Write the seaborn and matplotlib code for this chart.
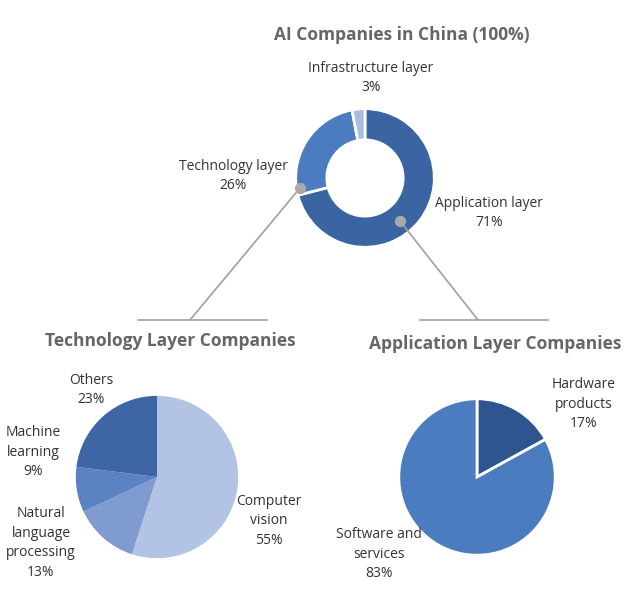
import matplotlib
matplotlib.use("Agg")
import matplotlib.pyplot as plt
import seaborn as sns

sns.set_theme(style="white")
plt.rcParams['font.family'] = ['Open Sans', 'DejaVu Sans']

top_labels = ["Application layer", "Technology layer", "Infrastructure layer"]
top_values = [71, 26, 3]
top_colors = ["#3b64a2", "#4a7cbf", "#a8bde0"]

tech_labels = ["Computer vision", "Natural language processing", "Machine learning", "Others"]
tech_values = [55, 13, 9, 23]
tech_colors = ["#b3c3e4", "#7f9bd0", "#5b82c2", "#3e66a4"]

app_labels = ["Hardware products", "Software and services"]
app_values = [17, 83]
app_colors = ["#2f5591", "#4a7cbf"]

W, H = 640, 614
fig = plt.figure(figsize=(W/100, H/100), dpi=100)

def add_ax(cx, cy, r):
    a = fig.add_axes([(cx - r)/W, 1 - (cy + r)/H, 2*r/W, 2*r/H])
    return a

def fix(a):
    a.set_xlim(-1.01, 1.01); a.set_ylim(-1.01, 1.01); a.set_aspect("equal"); a.axis("off")

ax1 = add_ax(365, 178, 70)
ax1.pie(top_values, colors=top_colors, startangle=90, counterclock=False,
        wedgeprops=dict(width=0.45, edgecolor="white", linewidth=2))
fix(ax1)

ax2 = add_ax(157, 477, 82)
ax2.pie(tech_values, colors=tech_colors, startangle=90, counterclock=False,
        wedgeprops=dict(edgecolor="none"))
fix(ax2)

ax3 = add_ax(477, 477, 79)
ax3.pie(app_values, colors=app_colors, startangle=90, counterclock=False,
        wedgeprops=dict(edgecolor="white", linewidth=2))
fix(ax3)

ov = fig.add_axes([0, 0, 1, 1], zorder=5)
ov.set_xlim(0, W); ov.set_ylim(H, 0); ov.axis("off"); ov.patch.set_alpha(0)
g = "#a0a0a0"
ov.plot([138, 267], [320, 320], color=g, lw=1.2)
ov.plot([190, 300], [320, 188], color=g, lw=1.2)
ov.plot([420, 548], [320, 320], color=g, lw=1.2)
ov.plot([478, 400], [320, 221], color=g, lw=1.2)
ov.scatter([300, 400], [188, 221], s=50, color="#a9a9a9", zorder=6)

tc = "#333333"
ov.text(402, 35, "AI Companies in China (100%)", ha="center", va="center", fontsize=12.5, fontweight="bold", color="#666666")
ov.text(170, 341, "Technology Layer Companies", ha="center", va="center", fontsize=12.5, fontweight="bold", color="#666666")
ov.text(495, 344, "Application Layer Companies", ha="center", va="center", fontsize=12.5, fontweight="bold", color="#666666")
fs = 10
def lab(x, y, s):
    ov.text(x, y, s, ha="center", va="center", fontsize=fs, color=tc, linespacing=1.45)
lab(371, 78, "Infrastructure layer\n3%")
lab(233, 176, "Technology layer\n26%")
lab(489, 213, "Application layer\n71%")
lab(91, 390, "Others\n23%")
lab(33, 452, "Machine\nlearning\n9%")
lab(41, 543, "Natural\nlanguage\nprocessing\n13%")
lab(269, 521, "Computer\nvision\n55%")
lab(584, 404, "Hardware\nproducts\n17%")
lab(379, 554, "Software and\nservices\n83%")

fig.savefig("out.png", dpi=100)
